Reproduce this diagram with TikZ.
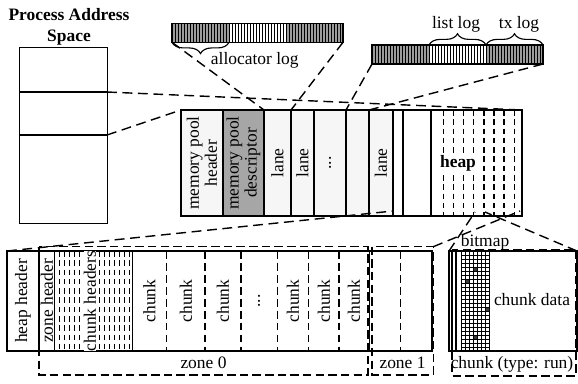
\documentclass[tikz,border=0pt]{standalone}
\usepackage{fontspec}
\setmainfont{Liberation Serif}
\usetikzlibrary{positioning, decorations.pathreplacing}
\definecolor{clrDesc}{HTML}{A6A6A6}
\definecolor{clrLane}{HTML}{F6F6F6}
\definecolor{clrLog} {HTML}{9C9C9C}
\definecolor{clrBit} {HTML}{3A3A3A}
\newlength{\px}
\setlength{\px}{0.025cm}
\newcommand{\fsz}{\fontsize{12.4}{12.8}\selectfont}

\begin{document}
\begin{tikzpicture}[x=0.025cm, y=-0.025cm, font=\fsz,
  cell/.style={draw, line width=1pt, inner sep=0pt, outer sep=0pt,
               minimum height=106\px, anchor=north west},
  bar/.style={draw, line width=1pt, inner sep=0pt, outer sep=0pt,
              minimum width=171\px, minimum height=19\px, anchor=north west},
  frame/.style={draw, line width=1pt, inner sep=0pt, outer sep=0pt,
                minimum height=100\px, anchor=north west},
  vtxt/.style={rotate=90, align=center, inner sep=0pt},
  zoomln/.style={line width=1pt, dash pattern=on 7pt off 4pt},
  zonebox/.style={line width=1pt, dash pattern=on 6pt off 3pt},
  sepln/.style={line width=1pt, dash pattern=on 5.5pt off 3pt},
  fineln/.style={line width=0.9pt, dash pattern=on 4pt off 2.6pt},
  brc/.style={decorate, decoration={brace, amplitude=8pt}, line width=0.8pt},
]
\useasboundingbox (0,0) rectangle (578,383);

% process address space
\node[align=center, font=\fontsize{12.4}{15}\selectfont\bfseries]
  (pasTitle) at (69,27) {Process Address\\Space};
\node[draw, line width=1pt, inner sep=0pt, minimum width=88\px,
      minimum height=176\px, anchor=north west] (pas) at (19,47) {};
\coordinate (segTop) at (107,92);
\coordinate (segBot) at (107,135);
\draw[line width=1pt] (pas.west |- segTop) -- (segTop);
\draw[line width=1pt] (pas.west |- segBot) -- (segBot);

% memory pool
\node[cell, fill=clrLane, minimum width=42\px] (hdr) at (181,110) {};
\node[cell, fill=clrDesc, minimum width=41\px, right=0pt of hdr] (desc) {};
\node[cell, fill=clrLane, minimum width=27\px, right=0pt of desc] (laneA) {};
\node[cell, fill=clrLane, minimum width=23\px, right=0pt of laneA] (laneB) {};
\node[cell, fill=clrLane, minimum width=32\px, right=0pt of laneB] (laneDots) {};
\node[cell, fill=clrLane, minimum width=23\px, right=0pt of laneDots] (laneL) {};
\node[cell, fill=clrLane, minimum width=24\px, right=0pt of laneL] (laneC) {};
\node[cell, minimum width=10\px, right=0pt of laneC] (gapA) {};
\node[cell, minimum width=28\px, right=0pt of gapA] (gapB) {};
\node[cell, minimum width=91\px, right=0pt of gapB] (heap) {};
\node[vtxt] (hdrTxt) at (hdr) {memory pool\\header};
\node[vtxt] (descTxt) at (desc) {memory pool\\descriptor};
\node[vtxt] (laneATxt) at (laneA) {lane};
\node[vtxt] (laneBTxt) at (laneB) {lane};
\node[vtxt] (dotsTxt) at (laneDots) {...};
\node[vtxt] (laneCTxt) at (laneC) {lane};
\foreach \i in {0,...,7}
  \draw[fineln] ({443.5+10.1*\i},110) -- ({443.5+10.1*\i},216);
\node[font=\fsz\bfseries, fill=white, inner sep=0.6pt] (heapTxt) at (458,163) {heap};

% logs
\fill[clrLog] (172,23.3) rectangle (229,42.3);
\fill[clrLog] (286,23.3) rectangle (343,42.3);
\foreach \x in {175,178,...,340} \draw[line width=0.5pt] (\x,23.3) -- (\x,42.3);
\node[bar] (alog) at (172,23.3) {};
\fill[clrLog] (372,45) rectangle (429,64);
\fill[clrLog] (486,45) rectangle (543,64);
\foreach \x in {375,378,...,540} \draw[line width=0.5pt] (\x,45) -- (\x,64);
\node[bar] (llog) at (372,45) {};
\draw[brc, decoration={mirror}] (alog.south west) -- (229,42.3);
\node[anchor=west] (alogTxt) at (206,60) {allocator log};
\draw[brc] (429,45) -- (486,45);
\draw[brc] (486,45) -- (llog.north east);
\node (llogTxt) at (456,24) {list log};
\node (txTxt) at (519,24) {tx log};

% heap layout
\node[frame, minimum width=425\px] (heapbox) at (7,251) {};
\foreach \x in {39,54.3,132.3,369.5} \draw[line width=1pt] (\x,251) -- (\x,351);
\foreach \i in {0,...,14} \draw[fineln] ({59.3+5*\i},251) -- ({59.3+5*\i},351);
\foreach \x in {166.7,205,241,277.3,308.3,339,400.7} \draw[sepln] (\x,251) -- (\x,351);
\node[vtxt] (hhdrTxt) at (23,301) {heap header};
\node[vtxt] (zhdrTxt) at (47,301) {zone header};
\node[vtxt, fill=white] (chdrTxt) at (90,301) {chunk headers};
\foreach \x [count=\k] in {149.5, 186, 223, 293, 324, 354}
  \node[vtxt] (chunk\k) at (\x,301) {chunk};
\node[vtxt] (chunkDots) at (259,301) {...};
\draw[zonebox] (39,246.7) rectangle (368,375);
\draw[zonebox] (372,246.7) rectangle (433.3,375);
\node (zone0Txt) at (203.5,363) {zone 0};
\node (zone1Txt) at (402.5,363) {zone 1};
\coordinate (zone1Top) at (433.3,246.7);

% chunk of type run
\node[frame, minimum width=128\px] (run) at (449,251) {};
\draw[line width=1pt] (452,251) -- (452,351);
\draw[line width=1pt] (456,251) -- (456,351);
\foreach \c/\r in {3/4, 1/7, 6/14, 3/21}
  \fill[clrBit] ({461+4*\c},{251+4*\r}) rectangle ++(4,4);
\foreach \i in {0,...,7} \draw[line width=0.6pt] ({461+4*\i},251) -- ({461+4*\i},351);
\foreach \j in {0,...,25} \draw[line width=0.6pt] (461,{251+4*\j}) -- (489,{251+4*\j});
\draw[zonebox] (452,250) rectangle (576,376);
\node (bitTxt) at (485,242) {bitmap};
\node (dataTxt) at (532,300) {chunk data};
\node (runTxt) at (512,364) {chunk (type: run)};

% zoom lines
\coordinate (poolCut) at (393,211);
\coordinate (heapCut) at (520,211);
\coordinate (slotL) at (475,212);
\coordinate (slotR) at (485,212);
\draw[zoomln] (segTop) -- (heap.north east);
\draw[zoomln] (segBot) -- (hdr.north west);
\draw[zoomln] (alog.south west) -- (desc.north east);
\draw[zoomln] (alog.south east) -- (laneA.north east);
\draw[zoomln] (llog.south west) -- (laneDots.north east);
\draw[zoomln] (llog.south east) -- (laneL.north east);
\draw[zoomln] (heapbox.north west) -- (poolCut);
\draw[zoomln] (zone1Top) -- (heapCut);
\draw[zoomln] (run.north west) -- (slotL);
\draw[zoomln] (run.north east) -- (slotR);
\end{tikzpicture}
\end{document}
